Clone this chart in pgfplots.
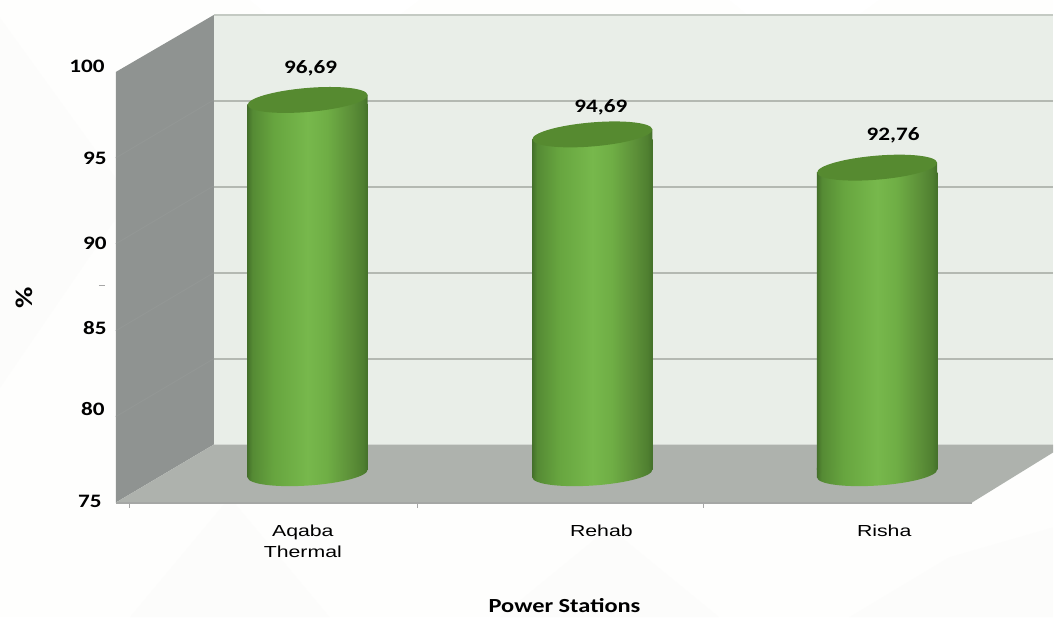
\documentclass[border=0pt]{standalone}
\usepackage{pgfplots}
\pgfplotsset{compat=1.18}
\usepackage{fontspec}
\setmainfont{Carlito}
\newfontfamily\numfont[FakeStretch=1.22]{Carlito}
\newfontfamily\catfont[FakeStretch=1.33]{Liberation Sans}
\newcommand\boldlab{\numfont\bfseries\fontsize{19bp}{21bp}\selectfont}
\newcommand\titlelab{\numfont\bfseries\fontsize{20bp}{22bp}\selectfont}
\newcommand\catlab{\catfont\fontsize{16bp}{21bp}\selectfont}

\definecolor{pagebg}{HTML}{FEFEFD}
\definecolor{pagediamond}{HTML}{FCFCFB}
\definecolor{backwall}{HTML}{E9EEE8}
\definecolor{backedge}{HTML}{C4CAC3}
\definecolor{gridc}{HTML}{B4B9B2}
\definecolor{sidewall}{HTML}{8F9391}
\definecolor{sidegrid}{HTML}{939795}
\definecolor{floorc}{HTML}{AEB2AD}
\definecolor{flooredge}{HTML}{A5A7A5}
\definecolor{capc}{HTML}{568A30}
\definecolor{cylA}{HTML}{44702A}
\definecolor{cylB}{HTML}{558A34}
\definecolor{cylC}{HTML}{67A53F}
\definecolor{cylD}{HTML}{77B84C}
\definecolor{cylE}{HTML}{6FAE45}
\definecolor{cylF}{HTML}{5C8F38}
\definecolor{cylG}{HTML}{4F7F30}

% Horizontal light falloff across the cylinder body
\pgfdeclarehorizontalshading{cyl}{100bp}{
  color(0bp)=(cylA);
  color(25bp)=(cylA);
  color(27bp)=(cylB);
  color(36bp)=(cylC);
  color(50bp)=(cylD);
  color(58bp)=(cylE);
  color(68bp)=(cylF);
  color(73bp)=(cylG);
  color(75bp)=(cylA);
  color(100bp)=(cylA)}

% Tilted end caps of the cylinders
\pgfdeclareplotmark{cyltop}{
  \path[draw=none,shade,shading=cyl] (-60bp,0bp) -- (60bp,10bp) -- (60bp,-6bp) -- (-60bp,-6bp) -- cycle;
  \path[draw=none,fill=capc] (0bp,5bp) ellipse[x radius=60.2bp,y radius=12bp,rotate=4.8];
}
\pgfdeclareplotmark{cylbase}{
  \path[draw=none,shade,shading=cyl] (-60.2bp,2bp) -- (60.2bp,2bp) -- (60.2bp,0bp) -- (-60.2bp,-7.6bp) -- cycle;
  \path[draw=none,shade,shading=cyl] (0bp,-3.6bp) ellipse[x radius=60.2bp,y radius=12bp,rotate=3.8];
}

% Vertically placed tick label: #1 is the offset from the tick height
\newcommand\tl[2]{\raisebox{\dimexpr #1bp-6bp\relax}[0pt][0pt]{#2}}

\begin{document}
\begin{tikzpicture}[x=1bp,y=1bp]
  % page ground with a faint diamond lattice
  \fill[pagebg] (0,0) rectangle (1054,618);
  \fill[pagediamond] (0,230) -- (130,420) -- (0,600) -- cycle;
  \fill[pagediamond] (130,0) -- (330,0) -- (230,120) -- cycle;
  \fill[pagediamond] (500,0) -- (720,0) -- (610,90) -- cycle;
  \fill[pagediamond] (850,0) -- (1054,0) -- (1054,90) -- (950,60) -- cycle;
  \fill[white] (250,618) -- (330,550) -- (420,618) -- cycle;
  \fill[white] (730,618) -- (800,560) -- (880,618) -- cycle;

  % back wall and side wall
  \fill[backwall] (214,173) rectangle (1054,603);
  \draw[backedge,line width=1.5bp] (214,603) -- (1054,603);
  \fill[sidewall] (116,115) -- (214,173) -- (214,603) -- (116,546) -- cycle;
  \foreach \py in {460,374,287,201}
    \draw[sidegrid,line width=1bp] (116,\py) -- (214,\py+58);

  % back wall grid
  \begin{axis}[
    name=backplane,
    at={(214bp,173bp)},anchor=south west,scale only axis,
    width=840bp,height=430bp,
    xmin=0,xmax=1,ymin=75,ymax=100,
    axis line style={draw=none},
    xtick=\empty,ytick={80,85,90,95},yticklabels={},
    major tick length=0pt,
    ymajorgrids,
    grid style={gridc,line width=2bp},
  ]
  \end{axis}

  % floor
  \fill[floorc] (214,173) -- (1054,173) -- (1054,165) -- (973,115) -- (116,115) -- cycle;
  \draw[flooredge,line width=2bp] (116,115) -- (973,115);
  \draw[gray!70,line width=0.8bp] (99,332) -- (105,332);

  % front plane: value scale, station names and axis titles
  \begin{axis}[
    name=frontplane,
    at={(116bp,115bp)},anchor=south west,scale only axis,
    width=857bp,height=431bp,
    xmin=-0.5,xmax=2.5,ymin=75,ymax=100,
    clip=false,
    axis line style={draw=none},
    ytick={75,80,85,90,95,100},
    yticklabels={\tl{1}{75\hspace{5bp}},\tl{7}{80\hspace{2bp}},\tl{2}{85},\tl{1}{90},\tl{0}{95},\tl{5}{100\hspace{2bp}}},
    yticklabel style={anchor=east,font=\boldlab,inner sep=0pt,xshift=-9bp},
    y tick style={draw=none},
    xtick={0.155,1.201,2.192},
    xticklabels={Aqaba\\Thermal,\raisebox{-5bp}{Rehab},\raisebox{-5bp}{Risha}},
    xticklabel style={font=\catlab,align=center,anchor=north,inner sep=0pt,yshift=-22bp},
    x tick style={draw=none},
    minor xtick={-0.451,0.557,1.558,2.556},
    minor tick length=6bp,
    minor x tick style={draw=gray!70,line width=0.8bp,yshift=-5bp},
    tick pos=left,
    xlabel={Power Stations},
    ylabel={\fontsize{24bp}{24bp}\selectfont\%},
    xlabel style={font=\titlelab,at={(axis description cs:0.524,-0.239)},anchor=center,inner sep=0pt},
    ylabel style={font=\titlelab,at={(axis description cs:-0.107,0.476)},anchor=center,inner sep=0pt},
  ]
  \end{axis}

  % cylinders, standing half way along the depth of the floor
  \begin{axis}[
    name=barplane,
    at={(164bp,147.6bp)},anchor=south west,scale only axis,
    width=857bp,height=422.4bp,
    xmin=-0.505,xmax=2.502,ymin=75.5,ymax=100,
    clip=false,hide axis,
    cylbody/.style={ybar,bar width=120.4bp,bar shift=0pt,draw=none,shade,shading=cyl},
  ]
    % one plot per cylinder so that each body carries its own shading
    \addplot[cylbody] coordinates {(0,96.69)};
    \addplot[cylbody] coordinates {(1,94.69)};
    \addplot[cylbody] coordinates {(2,92.76)};
    \addplot[only marks,mark=cylbase,mark options={draw=none}]
      coordinates {(0,75.5) (1,75.5) (2,75.5)};
    \addplot[only marks,mark=cyltop,mark options={draw=none},
      point meta=y,
      nodes near coords,
      /pgf/number format/.cd,assume math mode=true,fixed,fixed zerofill,precision=2,use comma,
      /pgfplots/.cd,
      every node near coord/.append style={font=\boldlab,text=black,anchor=center,inner sep=0pt,xshift=8.5bp,yshift=37bp},
      coordinate style/.condition={x==0}{xshift=-5.5bp},
      coordinate style/.condition={x==1}{yshift=-4.5bp},
      coordinate style/.condition={x==2}{xshift=7.5bp},
    ]
      coordinates {(0,96.69) (1,94.69) (2,92.76)};
  \end{axis}
\end{tikzpicture}
\end{document}
